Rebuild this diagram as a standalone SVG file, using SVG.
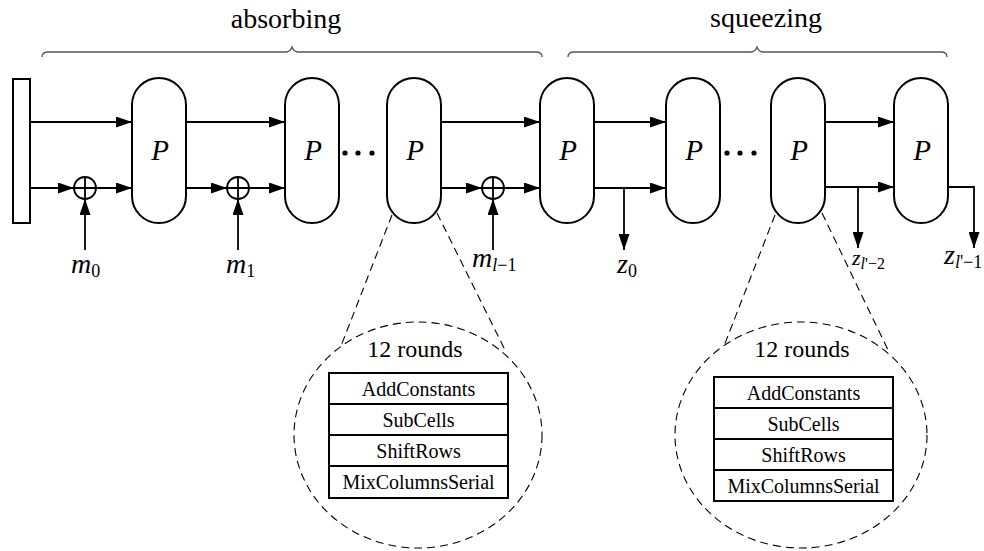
<svg xmlns="http://www.w3.org/2000/svg" width="984" height="551" viewBox="0 0 984 551">
<defs>
<marker id="ah" viewBox="0 0 16 11" refX="16" refY="5.5" markerWidth="16" markerHeight="11" markerUnits="userSpaceOnUse" orient="auto">
<path d="M0,0 L16,5.5 L0,11 z" fill="#000"/>
</marker>
</defs>
<style>
.box{fill:#fff;stroke:#000;stroke-width:2}
.ln{fill:none;stroke:#000;stroke-width:1.8}
.arr{fill:none;stroke:#000;stroke-width:1.8;marker-end:url(#ah)}
.dash{fill:none;stroke:#000;stroke-width:1.1;stroke-dasharray:8 5}
.brace{fill:none;stroke:#555;stroke-width:1.3}
.pl{font-family:"Liberation Serif","Times New Roman",serif;font-style:italic;font-size:29px;text-anchor:middle}
.math{font-family:"Liberation Serif","Times New Roman",serif;font-size:28px}
.it{font-style:italic}
.sub{font-size:18px}
.row{font-family:"Liberation Serif","Times New Roman",serif;font-size:20px;text-anchor:middle}
.rounds{font-family:"Liberation Serif","Times New Roman",serif;font-size:24px;text-anchor:middle}
.head{font-family:"Liberation Serif","Times New Roman",serif;font-size:28px;text-anchor:middle}
</style>

<g id="braces">
<path class="brace" d="M42,57 Q42,52 48,52 L286,52 Q290,52 292,47 Q294,52 298,52 L536,52 Q542,52 542,57"/>
<text class="head" x="286" y="28">absorbing</text>
<path class="brace" d="M568,57 Q568,52 574,52 L751,52 Q755,52 757,47 Q759,52 763,52 L941,52 Q947,52 947,57"/>
<text class="head" x="766" y="27">squeezing</text>
</g>

<g id="init"><rect class="box" x="13" y="79" width="17" height="144"/></g>

<g id="P1"><rect class="box" x="132" y="78" width="54" height="145" rx="27"/><text class="pl" x="160" y="160">P</text></g>
<g id="P2"><rect class="box" x="285" y="78" width="54" height="145" rx="27"/><text class="pl" x="313" y="160">P</text></g>
<g id="P3"><rect class="box" x="387" y="78" width="54" height="145" rx="27"/><text class="pl" x="415" y="160">P</text></g>
<g id="P4"><rect class="box" x="540" y="78" width="54" height="145" rx="27"/><text class="pl" x="568" y="160">P</text></g>
<g id="P5"><rect class="box" x="666" y="78" width="54" height="145" rx="27"/><text class="pl" x="694" y="160">P</text></g>
<g id="P6"><rect class="box" x="771" y="78" width="54" height="145" rx="27"/><text class="pl" x="799" y="160">P</text></g>
<g id="P7"><rect class="box" x="894" y="78" width="54" height="145" rx="27"/><text class="pl" x="922" y="160">P</text></g>

<g id="dots1"><circle cx="345" cy="153" r="2.6"/><circle cx="358" cy="153" r="2.6"/><circle cx="372" cy="153" r="2.6"/></g>
<g id="dots2"><circle cx="727" cy="153" r="2.6"/><circle cx="740" cy="153" r="2.6"/><circle cx="754" cy="153" r="2.6"/></g>

<g id="xor1"><circle class="ln" cx="85" cy="188" r="11" fill="#fff"/><path class="ln" d="M74,188 H96 M85,177 V199"/></g>
<g id="xor2"><circle class="ln" cx="238" cy="188" r="11" fill="#fff"/><path class="ln" d="M227,188 H249 M238,177 V199"/></g>
<g id="xor3"><circle class="ln" cx="493" cy="188" r="11" fill="#fff"/><path class="ln" d="M482,188 H504 M493,177 V199"/></g>

<g id="connectors">
<path class="arr" d="M30,122 H132"/>
<path class="arr" d="M30,188 H74"/>
<path class="arr" d="M96,188 H132"/>
<path class="arr" d="M85,250 V199"/>
<path class="arr" d="M186,122 H285"/>
<path class="arr" d="M186,188 H227"/>
<path class="arr" d="M249,188 H285"/>
<path class="arr" d="M238,250 V199"/>
<path class="arr" d="M441,122 H540"/>
<path class="arr" d="M441,188 H482"/>
<path class="arr" d="M504,188 H540"/>
<path class="arr" d="M493,250 V199"/>
<path class="arr" d="M594,122 H666"/>
<path class="arr" d="M594,188 H666"/>
<path class="arr" d="M624,188 V250"/>
<path class="arr" d="M825,122 H894"/>
<path class="arr" d="M825,187 H894"/>
<path class="arr" d="M858,187 V248"/>
<path class="arr" d="M948,187 H974 V248"/>
<path class="dash" d="M392,215 L341,346"/>
<path class="dash" d="M437,213 L505,350"/>
<path class="dash" d="M775,215 L724,346"/>
<path class="dash" d="M822,213 L889,352"/>
</g>

<g id="labels">
<text class="math" x="71" y="273"><tspan class="it">m</tspan><tspan class="sub" dy="4">0</tspan></text>
<text class="math" x="226" y="273"><tspan class="it">m</tspan><tspan class="sub" dy="4">1</tspan></text>
<text class="math" x="472" y="267"><tspan class="it">m</tspan><tspan class="sub" dy="4"><tspan class="it">l</tspan>−1</tspan></text>
<text class="math" x="617" y="273"><tspan class="it">z</tspan><tspan class="sub" dy="4">0</tspan></text>
<text class="math" x="852" y="265" style="font-size:22px"><tspan class="it">z</tspan><tspan class="sub" dy="4" style="font-size:16px"><tspan class="it">l</tspan>'−2</tspan></text>
<text class="math" x="944" y="264"><tspan class="it">z</tspan><tspan class="sub" dy="4"><tspan class="it">l</tspan>'−1</tspan></text>
</g>

<g id="detail1">
<ellipse class="dash" cx="418" cy="435" rx="124" ry="113"/>
<text class="rounds" x="415" y="357">12 rounds</text>
<rect class="box" x="329" y="373" width="179" height="125"/>
<path class="ln" style="stroke-width:2" d="M329,404 H508 M329,435 H508 M329,466 H508"/>
<text class="row" x="418.5" y="395.5">AddConstants</text>
<text class="row" x="418.5" y="426.5">SubCells</text>
<text class="row" x="418.5" y="457.5">ShiftRows</text>
<text class="row" x="418.5" y="488.5">MixColumnsSerial</text>
</g>

<g id="detail2">
<ellipse class="dash" cx="801" cy="435" rx="126" ry="113"/>
<text class="rounds" x="802" y="357">12 rounds</text>
<rect class="box" x="714" y="377" width="179" height="124"/>
<path class="ln" style="stroke-width:2" d="M714,408 H893 M714,439 H893 M714,470 H893"/>
<text class="row" x="803.5" y="399.5">AddConstants</text>
<text class="row" x="803.5" y="430.5">SubCells</text>
<text class="row" x="803.5" y="461.5">ShiftRows</text>
<text class="row" x="803.5" y="492.5">MixColumnsSerial</text>
</g>
</svg>
